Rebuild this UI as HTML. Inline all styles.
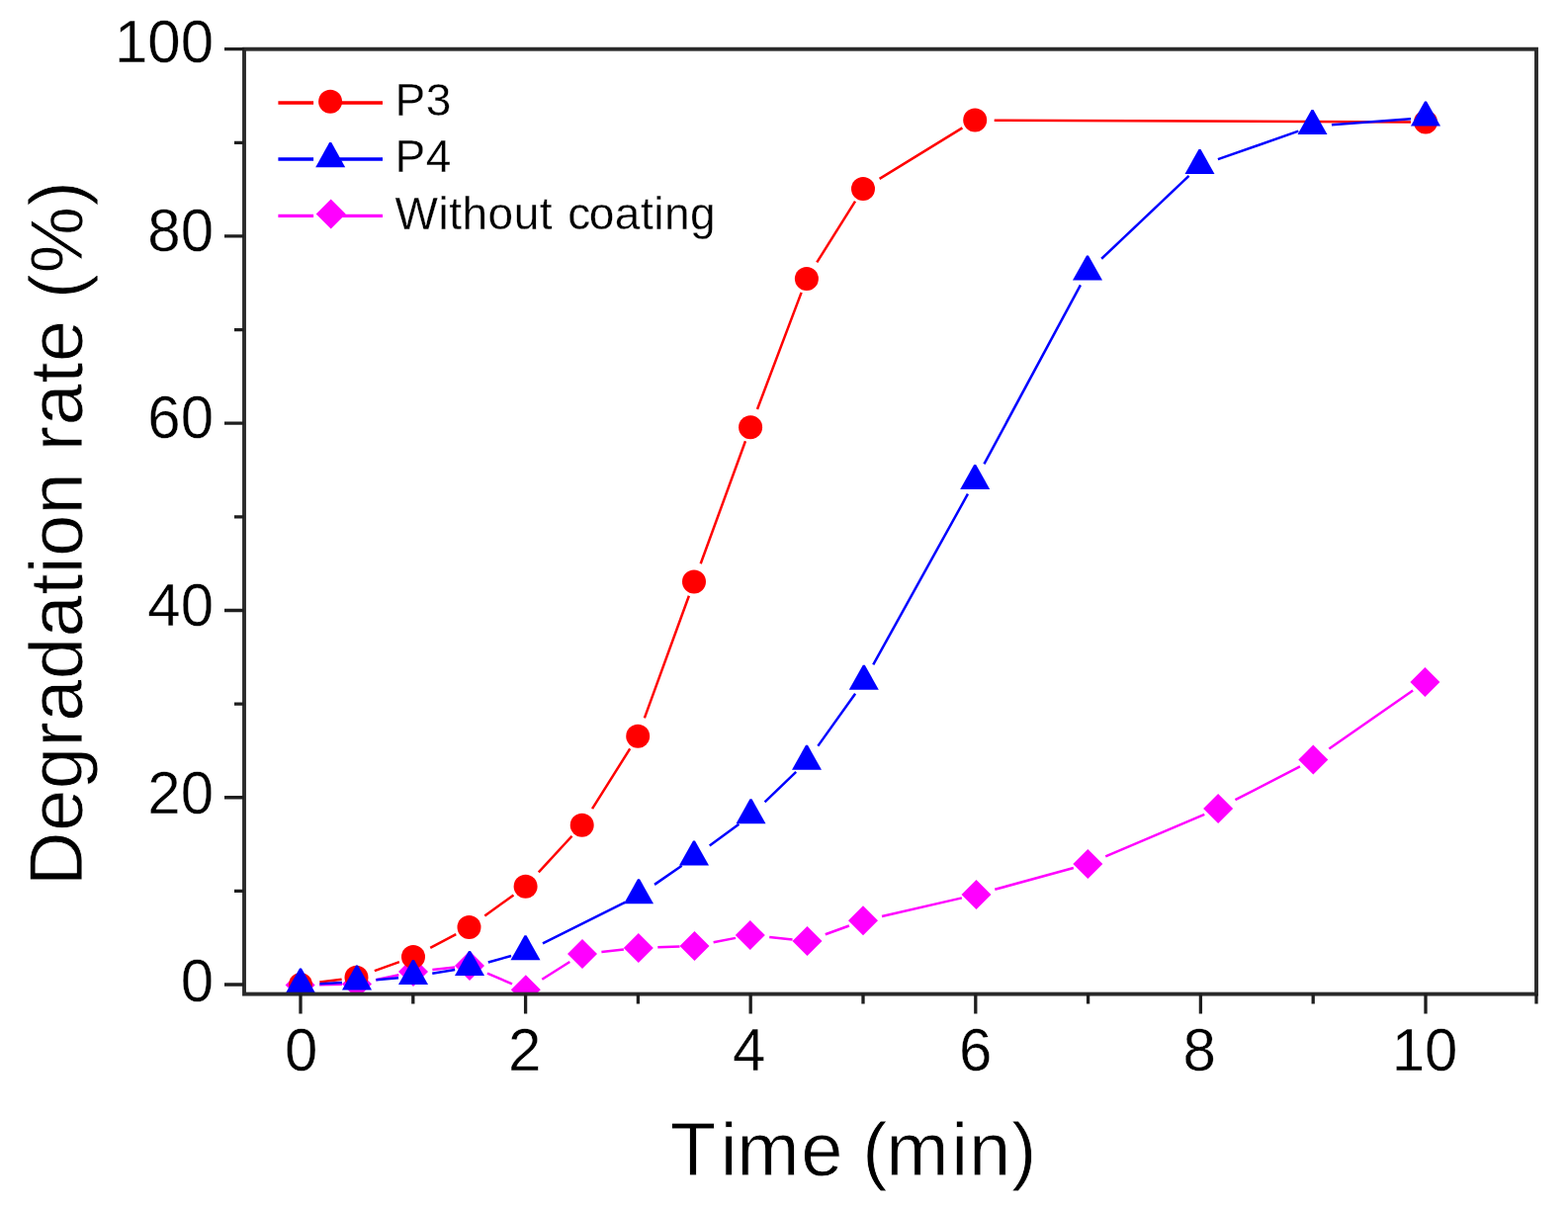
<!DOCTYPE html>
<html><head><meta charset="utf-8"><title>Degradation rate vs time</title>
<style>html,body{margin:0;padding:0;background:#fff;}svg{display:block;}</style>
</head><body>
<svg width="1586" height="1219" viewBox="0 0 1586 1219" font-family="'Liberation Sans', Arial, sans-serif"><style>text{fill:#000;stroke:#fff;stroke-width:0.4px;} .t{stroke-width:0.8px;} .l{stroke-width:0.3px;}</style><rect width="1586" height="1219" fill="#fff"/><defs><clipPath id="plot"><rect x="247.0" y="49.7" width="1307.0" height="954.3"/></clipPath></defs><g clip-path="url(#plot)"><path d="M323.10,996.16 L346.00,995.76 M380.05,991.32 L403.35,986.21 M437.39,980.96 L460.08,978.57 M492.94,984.64 L518.00,995.32 M548.28,990.77 L576.33,973.02 M608.39,962.92 L630.89,960.50 M665.29,958.25 L687.51,957.50 M721.64,953.26 L744.08,948.88 M778.20,948.02 L801.58,950.45 M834.81,945.29 L858.92,936.46 M892.01,926.93 L972.88,908.36 M1006.30,899.83 L1085.84,877.97 M1118.25,866.39 L1218.29,823.96 M1249.44,809.18 L1314.96,775.46 M1344.31,757.46 L1429.09,698.47" fill="none" stroke="#ff00ff" stroke-width="2.5"/><polygon points="303.60,981.50 318.60,996.50 303.60,1011.50 288.60,996.50" fill="#ff00ff"/><polygon points="361.00,980.50 376.00,995.50 361.00,1010.50 346.00,995.50" fill="#ff00ff"/><polygon points="418.00,968.00 433.00,983.00 418.00,998.00 403.00,983.00" fill="#ff00ff"/><polygon points="475.00,962.00 490.00,977.00 475.00,992.00 460.00,977.00" fill="#ff00ff"/><polygon points="531.80,986.20 546.80,1001.20 531.80,1016.20 516.80,1001.20" fill="#ff00ff"/><polygon points="589.00,950.00 604.00,965.00 589.00,980.00 574.00,965.00" fill="#ff00ff"/><polygon points="645.80,943.90 660.80,958.90 645.80,973.90 630.80,958.90" fill="#ff00ff"/><polygon points="702.50,942.00 717.50,957.00 702.50,972.00 687.50,957.00" fill="#ff00ff"/><polygon points="758.80,931.00 773.80,946.00 758.80,961.00 743.80,946.00" fill="#ff00ff"/><polygon points="816.50,937.00 831.50,952.00 816.50,967.00 801.50,952.00" fill="#ff00ff"/><polygon points="873.00,916.30 888.00,931.30 873.00,946.30 858.00,931.30" fill="#ff00ff"/><polygon points="987.50,890.00 1002.50,905.00 987.50,920.00 972.50,905.00" fill="#ff00ff"/><polygon points="1100.30,859.00 1115.30,874.00 1100.30,889.00 1085.30,874.00" fill="#ff00ff"/><polygon points="1232.10,803.10 1247.10,818.10 1232.10,833.10 1217.10,818.10" fill="#ff00ff"/><polygon points="1328.30,753.60 1343.30,768.60 1328.30,783.60 1313.30,768.60" fill="#ff00ff"/><polygon points="1441.40,674.90 1456.40,689.90 1441.40,704.90 1426.40,689.90" fill="#ff00ff"/><path d="M323.34,993.53 L345.62,990.70 M378.84,982.17 L403.89,973.10 M435.22,958.86 L461.25,945.03 M490.30,926.57 L519.45,905.49 M544.81,882.36 L578.54,845.73 M599.07,818.18 L637.22,757.40 M651.87,726.38 L696.87,602.70 M708.69,570.28 L753.96,446.29 M765.99,413.96 L810.60,295.93 M826.27,265.39 L865.02,203.70 M889.62,180.81 L973.41,129.44 M1005.70,121.68 L1427.00,123.44" fill="none" stroke="#ff0000" stroke-width="2.5"/><circle cx="304" cy="996" r="12.0" fill="#ff0000"/><circle cx="360.5" cy="988.8" r="12.0" fill="#ff0000"/><circle cx="418" cy="968" r="12.0" fill="#ff0000"/><circle cx="474.5" cy="938" r="12.0" fill="#ff0000"/><circle cx="531.6" cy="896.7" r="12.0" fill="#ff0000"/><circle cx="588.7" cy="834.7" r="12.0" fill="#ff0000"/><circle cx="645.2" cy="744.7" r="12.0" fill="#ff0000"/><circle cx="702" cy="588.6" r="12.0" fill="#ff0000"/><circle cx="759.1" cy="432.2" r="12.0" fill="#ff0000"/><circle cx="815.9" cy="281.9" r="12.0" fill="#ff0000"/><circle cx="873" cy="191" r="12.0" fill="#ff0000"/><circle cx="986.2" cy="121.6" r="12.0" fill="#ff0000"/><circle cx="1442" cy="123.5" r="12.0" fill="#ff0000"/><path d="M323.47,995.18 L346.02,993.99 M380.41,991.33 L403.07,989.14 M437.26,984.66 L460.18,981.04 M493.79,973.48 L517.05,967.02 M548.96,954.31 L632.57,912.68 M662.02,894.88 L689.68,875.66 M717.72,855.56 L747.41,833.78 M773.55,811.37 L805.19,780.90 M827.33,754.63 L865.09,701.71 M883.25,672.44 L978.93,499.72 M995.44,469.43 L1092.89,288.41 M1114.15,261.78 L1202.61,177.92 M1231.91,161.16 L1313.34,132.66 M1346.95,126.24 L1427.04,120.22" fill="none" stroke="#0000ff" stroke-width="2.5"/><polygon points="303.00,979.50 305.00,979.50 319.00,1004.55 289.00,1004.55" fill="#0000ff"/><polygon points="360.00,976.50 362.00,976.50 376.00,1001.55 346.00,1001.55" fill="#0000ff"/><polygon points="417.00,971.00 419.00,971.00 433.00,996.05 403.00,996.05" fill="#0000ff"/><polygon points="474.00,962.00 476.00,962.00 490.00,987.05 460.00,987.05" fill="#0000ff"/><polygon points="530.50,946.30 532.50,946.30 546.50,971.35 516.50,971.35" fill="#0000ff"/><polygon points="645.00,889.30 647.00,889.30 661.00,914.35 631.00,914.35" fill="#0000ff"/><polygon points="701.00,850.40 703.00,850.40 717.00,875.45 687.00,875.45" fill="#0000ff"/><polygon points="758.50,808.20 760.50,808.20 774.50,833.25 744.50,833.25" fill="#0000ff"/><polygon points="815.00,753.80 817.00,753.80 831.00,778.85 801.00,778.85" fill="#0000ff"/><polygon points="872.80,672.80 874.80,672.80 888.80,697.85 858.80,697.85" fill="#0000ff"/><polygon points="985.20,469.90 987.20,469.90 1001.20,494.95 971.20,494.95" fill="#0000ff"/><polygon points="1099.00,258.50 1101.00,258.50 1115.00,283.55 1085.00,283.55" fill="#0000ff"/><polygon points="1212.50,150.90 1214.50,150.90 1228.50,175.95 1198.50,175.95" fill="#0000ff"/><polygon points="1326.50,111.00 1328.50,111.00 1342.50,136.05 1312.50,136.05" fill="#0000ff"/><polygon points="1441.00,102.40 1443.00,102.40 1457.00,127.45 1427.00,127.45" fill="#0000ff"/></g><rect x="247.0" y="49.7" width="1307.0" height="955.9" fill="none" stroke="#2a2a2a" stroke-width="3.9"/><path d="M227.0,996.00 H247.0 M237.0,901.37 H247.0 M227.0,806.74 H247.0 M237.0,712.11 H247.0 M227.0,617.48 H247.0 M237.0,522.85 H247.0 M227.0,428.22 H247.0 M237.0,333.59 H247.0 M227.0,238.96 H247.0 M237.0,144.33 H247.0 M227.0,49.70 H247.0 M304.00,1005.6 V1025.6 M417.80,1005.6 V1015.6 M531.60,1005.6 V1025.6 M645.40,1005.6 V1015.6 M759.20,1005.6 V1025.6 M873.00,1005.6 V1015.6 M986.80,1005.6 V1025.6 M1100.60,1005.6 V1015.6 M1214.40,1005.6 V1025.6 M1328.20,1005.6 V1015.6 M1442.00,1005.6 V1025.6 M1554.00,1005.6 V1015.6" stroke="#1e1e1e" stroke-width="3.3" fill="none"/><text transform="translate(216,1013.4) scale(1,1.03)" font-size="60" letter-spacing="0" text-anchor="end">0</text><text transform="translate(216,823.4) scale(1,1.03)" font-size="60" letter-spacing="0" text-anchor="end">20</text><text transform="translate(216,633.1) scale(1,1.03)" font-size="60" letter-spacing="0" text-anchor="end">40</text><text transform="translate(216,443.4) scale(1,1.03)" font-size="60" letter-spacing="0" text-anchor="end">60</text><text transform="translate(216,253.6) scale(1,1.03)" font-size="60" letter-spacing="0" text-anchor="end">80</text><text transform="translate(216,62.8) scale(1,1.03)" font-size="60" letter-spacing="0" text-anchor="end">100</text><text transform="translate(304.7,1082.9) scale(1,1.03)" font-size="60" letter-spacing="0" text-anchor="middle">0</text><text transform="translate(530.6,1082.9) scale(1,1.03)" font-size="60" letter-spacing="0" text-anchor="middle">2</text><text transform="translate(757.6,1082.9) scale(1,1.03)" font-size="60" letter-spacing="0" text-anchor="middle">4</text><text transform="translate(986.6,1082.9) scale(1,1.03)" font-size="60" letter-spacing="0" text-anchor="middle">6</text><text transform="translate(1213.3,1082.9) scale(1,1.03)" font-size="60" letter-spacing="0" text-anchor="middle">8</text><text transform="translate(1441.0,1082.9) scale(1,1.03)" font-size="60" letter-spacing="0" text-anchor="middle">10</text><text class="t" x="677.7" y="1188.5" font-size="76" letter-spacing="1" dx="0 6.5 -1.5 0.8 -1.8 -1.75 -2.25 1.7 -0.2 -0.1">Time (min)</text><text class="t" transform="translate(82.5,896.2) rotate(-90)" x="0" y="0" font-size="76" letter-spacing="0.4">Degradation rate (%)</text><path d="M281.4,104.0 H317.1 M334,104.0 H387" stroke="#ff0000" stroke-width="3.4" fill="none"/><circle cx="334.1" cy="102.8" r="12.0" fill="#ff0000"/><text class="l" x="399.5" y="116.9" font-size="46" letter-spacing="0.5">P3</text><path d="M281.4,161.0 H317.1 M334,161.0 H387" stroke="#0000ff" stroke-width="3.4" fill="none"/><polygon points="333.20,144.10 335.20,144.10 349.20,169.15 319.20,169.15" fill="#0000ff"/><text class="l" x="399.5" y="174.2" font-size="46" letter-spacing="0.5">P4</text><path d="M281.4,218.4 H317.1 M334,218.4 H387" stroke="#ff00ff" stroke-width="3.4" fill="none"/><polygon points="334.70,201.60 349.70,216.60 334.70,231.60 319.70,216.60" fill="#ff00ff"/><text class="l" x="399.5" y="231.8" font-size="46" letter-spacing="0.5" dx="0 0 0 0 0 0 0 0 2 -2">Without coating</text></svg>
</body></html>
